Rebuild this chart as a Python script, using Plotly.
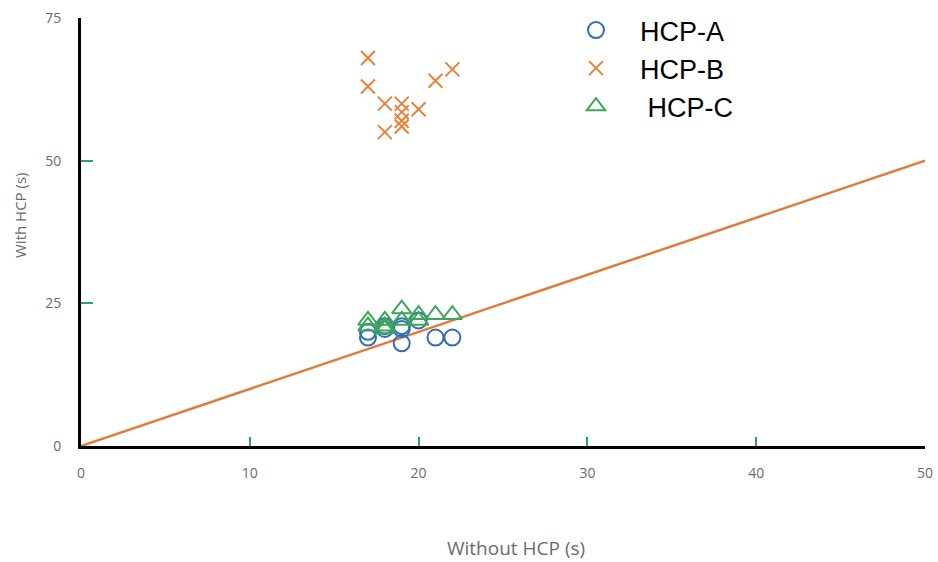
import plotly.graph_objects as go

# Data
a_x = [17, 17, 18, 18, 19, 19, 19, 20, 21, 22]
a_y = [19, 20, 20.5, 21, 18, 20.5, 21, 22, 19, 19]
b_x = [17, 17, 18, 18, 19, 19, 19, 19, 20, 21, 22]
b_y = [68, 63, 60, 55, 60, 58.5, 57, 56, 59, 64, 66]
c_x = [17, 17, 18, 18, 18, 19, 19, 20, 20, 21, 22]
c_y = [22, 21, 22, 21, 20.5, 24, 22, 23, 22, 23, 23]
ref_x = [0, 50]
ref_y = [0, 50]
x_ticks = [0, 10, 20, 30, 40, 50]
y_ticks = [0, 25, 50, 75]

fig = go.Figure()
fig.add_trace(go.Scatter(x=ref_x, y=ref_y, mode="lines",
                         line=dict(color="#E07B39", width=2.5), showlegend=False))
fig.add_trace(go.Scatter(x=a_x, y=a_y, mode="markers", name="HCP-A",
                         marker=dict(symbol="circle-open", size=16, color="#2F6DB5",
                                     line=dict(width=2, color="#2F6DB5"))))
fig.add_trace(go.Scatter(x=b_x, y=b_y, mode="markers", name="HCP-B",
                         marker=dict(symbol="x-thin-open", size=14, color="#E8823A",
                                     line=dict(width=2, color="#E8823A"))))
fig.add_trace(go.Scatter(x=c_x, y=c_y, mode="markers", name=" HCP-C",
                         marker=dict(symbol="triangle-up-open", size=17, color="#3DA65A",
                                     line=dict(width=2, color="#3DA65A"))))

tickfont = dict(family="Open Sans", size=14, color="#6B6B6B")
PW = 938 - 81 - 13
PH = 446 - 18
fig.update_layout(
    width=938, height=562,
    margin=dict(l=81, r=13, t=18, b=116, autoexpand=False),
    plot_bgcolor="white", paper_bgcolor="white",
    xaxis=dict(range=[0, 50], tickvals=x_ticks, showgrid=False, zeroline=False,
               showline=True, linecolor="black", linewidth=3, automargin=False,
               ticks="inside", ticklen=9, tickwidth=2, tickcolor="#2E9E6A",
               tickfont=tickfont, ticklabelstandoff=12),
    yaxis=dict(range=[0, 75], tickvals=y_ticks, showgrid=False, zeroline=False,
               showline=True, linecolor="black", linewidth=3, automargin=False,
               ticks="inside", ticklen=12, tickwidth=2, tickcolor="#2E9E6A",
               tickfont=tickfont, ticklabelstandoff=14),
    legend=dict(x=(552 - 81) / PW, y=(446 - 6) / PH, xanchor="left", yanchor="top",
                font=dict(family="Liberation Sans, Arial", size=27, color="black"),
                bgcolor="rgba(0,0,0,0)", itemwidth=78, tracegroupgap=0),
    annotations=[
        dict(text="Without HCP (s)", xref="paper", yref="paper", x=(516 - 81) / PW,
             y=(446 - 548) / PH, showarrow=False, xanchor="center", yanchor="middle",
             font=dict(family="Open Sans", size=19, color="#6B6B6B")),
        dict(text="With HCP (s)", xref="paper", yref="paper", x=(20 - 81) / PW,
             y=(446 - 215) / PH, showarrow=False, xanchor="center", yanchor="middle",
             textangle=-90, font=dict(family="Open Sans", size=15, color="#6B6B6B")),
    ],
)
fig.write_html("out.html")
